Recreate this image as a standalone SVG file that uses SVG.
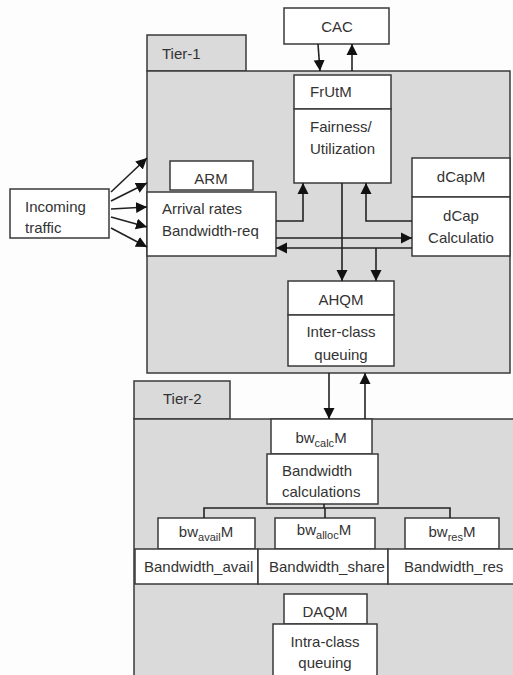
<svg xmlns="http://www.w3.org/2000/svg" width="513" height="675" viewBox="0 0 513 675">
<style>
text{font-family:"Liberation Sans",Arial,sans-serif;font-size:15px;fill:#333}
.c{text-anchor:middle}
.tier{fill:#dadada;stroke:#3a3a3a;stroke-width:1.5}
.box{fill:#fff;stroke:#3a3a3a;stroke-width:1.5}
.ln{fill:none;stroke:#222;stroke-width:1.6}
.sub{font-size:11px}
</style>
<defs>
<marker id="ah" markerUnits="userSpaceOnUse" markerWidth="12" markerHeight="12" refX="11" refY="6" orient="auto">
<path d="M0,0.5 L11,6 L0,11.5 z" fill="#111"/>
</marker>
</defs>
<rect width="513" height="675" fill="#fdfdfd"/>

<g id="tier1">
<rect class="tier" x="147" y="35" width="99" height="36"/>
<rect class="tier" x="147" y="71" width="363" height="302"/>
<text x="162" y="59">Tier-1</text>
</g>
<g id="tier2">
<rect class="tier" x="134" y="381" width="96" height="38"/>
<rect class="tier" x="134" y="419" width="400" height="280"/>
<text x="163" y="404">Tier-2</text>
</g>

<g id="cac">
<rect class="box" x="284" y="8" width="105" height="36"/>
<text class="c" x="337" y="32">CAC</text>
</g>
<g id="frutm">
<rect class="box" x="294" y="75" width="97" height="34"/>
<rect class="box" x="294" y="109" width="97" height="74"/>
<text x="310" y="97">FrUtM</text>
<text x="310" y="132">Fairness/</text>
<text x="310" y="154">Utilization</text>
</g>
<g id="incoming">
<rect class="box" x="10" y="189" width="99" height="49"/>
<text x="25" y="212">Incoming</text>
<text x="25" y="233">traffic</text>
</g>
<g id="arm">
<rect class="box" x="170" y="161" width="83" height="29"/>
<rect class="box" x="147" y="192" width="129" height="64"/>
<text class="c" x="211" y="184">ARM</text>
<text x="162" y="214">Arrival rates</text>
<text x="162" y="236">Bandwidth-req</text>
</g>
<g id="dcapm">
<rect class="box" x="412" y="158" width="98" height="39"/>
<rect class="box" x="412" y="197" width="98" height="59"/>
<text class="c" x="461" y="182">dCapM</text>
<text class="c" x="461" y="221">dCap</text>
<text class="c" x="461" y="243">Calculatio</text>
</g>
<g id="ahqm">
<rect class="box" x="288" y="281" width="106" height="34"/>
<rect class="box" x="288" y="315" width="106" height="51"/>
<text class="c" x="341" y="305">AHQM</text>
<text class="c" x="341" y="337">Inter-class</text>
<text class="c" x="341" y="360">queuing</text>
</g>
<g id="bwcalcm">
<rect class="box" x="271" y="419" width="101" height="35"/>
<rect class="box" x="267" y="454" width="111" height="50"/>
<text class="c" x="321" y="443">bw<tspan class="sub" dy="4">calc</tspan><tspan dy="-4">M</tspan></text>
<text x="282" y="476">Bandwidth</text>
<text x="282" y="497">calculations</text>
</g>
<g id="bwavailm">
<rect class="box" x="158" y="518" width="97" height="31"/>
<rect class="box" x="135" y="549" width="123" height="35"/>
<text class="c" x="206" y="537">bw<tspan class="sub" dy="4">avail</tspan><tspan dy="-4">M</tspan></text>
<text x="144" y="572">Bandwidth_avail</text>
</g>
<g id="bwallocm">
<rect class="box" x="275" y="518" width="100" height="31"/>
<rect class="box" x="258" y="549" width="130" height="35"/>
<text class="c" x="324" y="535">bw<tspan class="sub" dy="4">alloc</tspan><tspan dy="-4">M</tspan></text>
<text x="269" y="572">Bandwidth_share</text>
</g>
<g id="bwresm">
<rect class="box" x="405" y="518" width="94" height="31"/>
<rect class="box" x="388" y="549" width="140" height="35"/>
<text class="c" x="452" y="537">bw<tspan class="sub" dy="4">res</tspan><tspan dy="-4">M</tspan></text>
<text x="404" y="572">Bandwidth_res</text>
</g>
<g id="daqm">
<rect class="box" x="284" y="594" width="83" height="30"/>
<rect class="box" x="273" y="624" width="104" height="70"/>
<text class="c" x="325" y="617">DAQM</text>
<text class="c" x="325" y="647">Intra-class</text>
<text class="c" x="325" y="668">queuing</text>
</g>

<g id="connectors">
<line class="ln" x1="318" y1="44" x2="320" y2="71" marker-end="url(#ah)"/>
<line class="ln" x1="352" y1="71" x2="352" y2="44" marker-end="url(#ah)"/>
<line class="ln" x1="111" y1="192" x2="147" y2="158" marker-end="url(#ah)"/>
<line class="ln" x1="111" y1="201" x2="147" y2="183" marker-end="url(#ah)"/>
<line class="ln" x1="111" y1="209" x2="147" y2="207" marker-end="url(#ah)"/>
<line class="ln" x1="111" y1="217" x2="147" y2="227" marker-end="url(#ah)"/>
<line class="ln" x1="111" y1="228" x2="147" y2="247" marker-end="url(#ah)"/>
<polyline class="ln" points="276,221 303,221 303,183" marker-end="url(#ah)"/>
<polyline class="ln" points="412,221 366,221 366,183" marker-end="url(#ah)"/>
<line class="ln" x1="276" y1="238" x2="412" y2="238" marker-end="url(#ah)"/>
<line class="ln" x1="412" y1="248" x2="276" y2="248" marker-end="url(#ah)"/>
<line class="ln" x1="342" y1="183" x2="342" y2="281" marker-end="url(#ah)"/>
<line class="ln" x1="376" y1="248" x2="376" y2="281" marker-end="url(#ah)"/>
<line class="ln" x1="329" y1="373" x2="329" y2="419" marker-end="url(#ah)"/>
<line class="ln" x1="365" y1="419" x2="365" y2="373" marker-end="url(#ah)"/>
<polyline class="ln" points="324,504 324,508"/>
<polyline class="ln" points="204,518 204,508 450,508 450,518"/>
<line class="ln" x1="325" y1="508" x2="325" y2="518"/>
</g>
</svg>
